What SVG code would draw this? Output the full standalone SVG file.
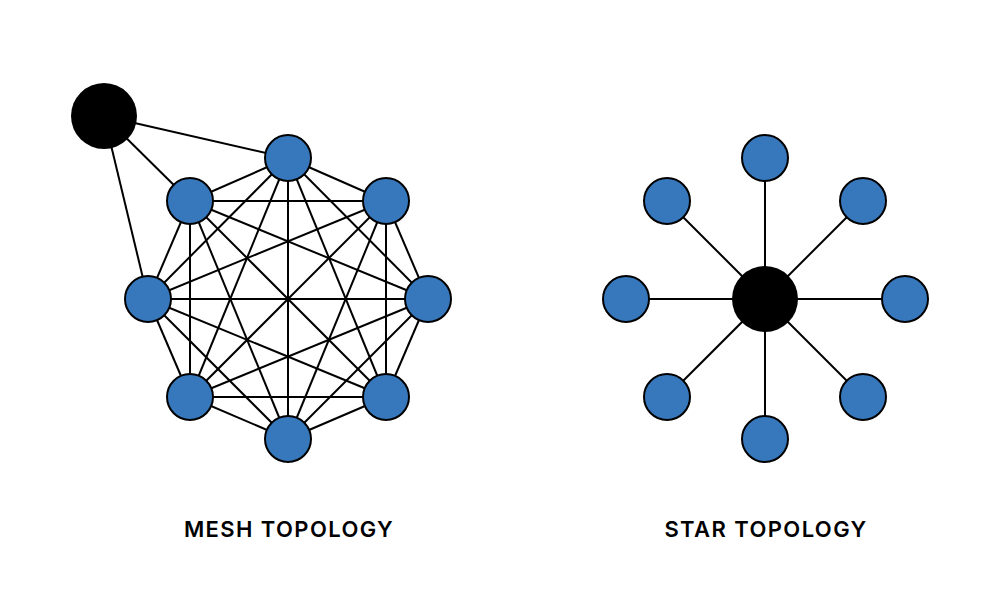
<svg xmlns="http://www.w3.org/2000/svg" width="1000" height="600" viewBox="0 0 1000 600">
<style>
.e{stroke:#000;stroke-width:2;fill:none}
.n{fill:#3778bd;stroke:#000;stroke-width:2}
.h{fill:#000}
.t{font-family:Inter,"Liberation Sans",sans-serif;font-size:22px;font-weight:600;fill:#000;text-anchor:middle;letter-spacing:1.4px}
</style>
<rect width="1000" height="600" fill="#fff"/>
<g id="connectors">
<line class="e" x1="104" y1="116" x2="288" y2="158"/>
<line class="e" x1="104" y1="116" x2="190" y2="201"/>
<line class="e" x1="104" y1="116" x2="148" y2="299"/>
<line class="e" x1="288" y1="158" x2="386" y2="201"/>
<line class="e" x1="288" y1="158" x2="428" y2="299"/>
<line class="e" x1="288" y1="158" x2="386" y2="397"/>
<line class="e" x1="288" y1="158" x2="288" y2="439"/>
<line class="e" x1="288" y1="158" x2="190" y2="397"/>
<line class="e" x1="288" y1="158" x2="148" y2="299"/>
<line class="e" x1="288" y1="158" x2="190" y2="201"/>
<line class="e" x1="386" y1="201" x2="428" y2="299"/>
<line class="e" x1="386" y1="201" x2="386" y2="397"/>
<line class="e" x1="386" y1="201" x2="288" y2="439"/>
<line class="e" x1="386" y1="201" x2="190" y2="397"/>
<line class="e" x1="386" y1="201" x2="148" y2="299"/>
<line class="e" x1="386" y1="201" x2="190" y2="201"/>
<line class="e" x1="428" y1="299" x2="386" y2="397"/>
<line class="e" x1="428" y1="299" x2="288" y2="439"/>
<line class="e" x1="428" y1="299" x2="190" y2="397"/>
<line class="e" x1="428" y1="299" x2="148" y2="299"/>
<line class="e" x1="428" y1="299" x2="190" y2="201"/>
<line class="e" x1="386" y1="397" x2="288" y2="439"/>
<line class="e" x1="386" y1="397" x2="190" y2="397"/>
<line class="e" x1="386" y1="397" x2="148" y2="299"/>
<line class="e" x1="386" y1="397" x2="190" y2="201"/>
<line class="e" x1="288" y1="439" x2="190" y2="397"/>
<line class="e" x1="288" y1="439" x2="148" y2="299"/>
<line class="e" x1="288" y1="439" x2="190" y2="201"/>
<line class="e" x1="190" y1="397" x2="148" y2="299"/>
<line class="e" x1="190" y1="397" x2="190" y2="201"/>
<line class="e" x1="148" y1="299" x2="190" y2="201"/>
<line class="e" x1="765" y1="299" x2="765" y2="158"/>
<line class="e" x1="765" y1="299" x2="863" y2="201"/>
<line class="e" x1="765" y1="299" x2="905" y2="299"/>
<line class="e" x1="765" y1="299" x2="863" y2="397"/>
<line class="e" x1="765" y1="299" x2="765" y2="439"/>
<line class="e" x1="765" y1="299" x2="667" y2="397"/>
<line class="e" x1="765" y1="299" x2="626" y2="299"/>
<line class="e" x1="765" y1="299" x2="667" y2="201"/>
</g>
<g id="mesh-hub"><circle class="h" cx="104" cy="116" r="33"/></g>
<g id="mesh-n1"><circle class="n" cx="288" cy="158" r="23"/></g>
<g id="mesh-n2"><circle class="n" cx="386" cy="201" r="23"/></g>
<g id="mesh-n3"><circle class="n" cx="428" cy="299" r="23"/></g>
<g id="mesh-n4"><circle class="n" cx="386" cy="397" r="23"/></g>
<g id="mesh-n5"><circle class="n" cx="288" cy="439" r="23"/></g>
<g id="mesh-n6"><circle class="n" cx="190" cy="397" r="23"/></g>
<g id="mesh-n7"><circle class="n" cx="148" cy="299" r="23"/></g>
<g id="mesh-n8"><circle class="n" cx="190" cy="201" r="23"/></g>
<g id="star-hub"><circle class="h" cx="765" cy="299" r="33"/></g>
<g id="star-n1"><circle class="n" cx="765" cy="158" r="23"/></g>
<g id="star-n2"><circle class="n" cx="863" cy="201" r="23"/></g>
<g id="star-n3"><circle class="n" cx="905" cy="299" r="23"/></g>
<g id="star-n4"><circle class="n" cx="863" cy="397" r="23"/></g>
<g id="star-n5"><circle class="n" cx="765" cy="439" r="23"/></g>
<g id="star-n6"><circle class="n" cx="667" cy="397" r="23"/></g>
<g id="star-n7"><circle class="n" cx="626" cy="299" r="23"/></g>
<g id="star-n8"><circle class="n" cx="667" cy="201" r="23"/></g>
<g id="labels">
<text class="t" x="289" y="537">MESH TOPOLOGY</text>
<text class="t" x="766" y="537">STAR TOPOLOGY</text>
</g>
</svg>
